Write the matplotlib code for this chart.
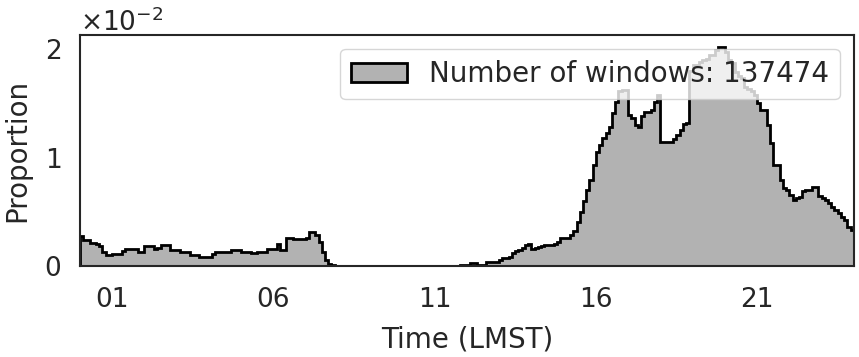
import numpy as np
import matplotlib
matplotlib.use("Agg")
import matplotlib.pyplot as plt
from matplotlib.ticker import ScalarFormatter
import seaborn as sns

# proportion per 6-minute bin, in units of 1e-2
night = [
    0.28, 0.24, 0.24, 0.215, 0.215, 0.20, 0.18, 0.13, 0.10, 0.10,
    0.11, 0.11, 0.11, 0.14, 0.155, 0.155, 0.155, 0.155, 0.13, 0.13,
    0.18, 0.18, 0.18, 0.16, 0.17, 0.19, 0.19, 0.19, 0.15, 0.15,
    0.15, 0.125, 0.125, 0.125, 0.10, 0.10, 0.10, 0.085, 0.085, 0.085,
    0.085, 0.11, 0.125, 0.125, 0.125, 0.125, 0.125, 0.15, 0.15, 0.15,
    0.13, 0.13, 0.13, 0.115, 0.115, 0.13, 0.13, 0.13, 0.16, 0.16,
    0.16, 0.20, 0.15, 0.15, 0.26, 0.26, 0.245, 0.245, 0.245, 0.245,
    0.26, 0.31, 0.31, 0.285, 0.22, 0.13, 0.055, 0.02, 0.005, 0.003,
]
quiet = [
    0.002, 0.0, 0.0, 0.0, 0.0, 0.0, 0.0, 0.0, 0.0, 0.0,
    0.0, 0.0, 0.0, 0.0, 0.0, 0.0, 0.0, 0.0, 0.0, 0.0,
    0.0, 0.0, 0.0, 0.0, 0.0, 0.0, 0.0, 0.0, 0.0, 0.0,
    0.0, 0.0, 0.0, 0.0, 0.0, 0.0, 0.0, 0.0, 0.005, 0.01,
]
afternoon = [
    0.01, 0.025, 0.025, 0.01, 0.01, 0.01, 0.035, 0.04, 0.04, 0.035,
    0.055, 0.07, 0.077, 0.08, 0.12, 0.14, 0.15, 0.17, 0.19, 0.20,
    0.157, 0.165, 0.178, 0.185, 0.19, 0.19, 0.195, 0.20, 0.225, 0.26,
    0.26, 0.255, 0.285, 0.32, 0.41, 0.50, 0.60, 0.70, 0.79, 0.93,
    1.05, 1.115, 1.18, 1.23, 1.285, 1.41, 1.51, 1.61, 1.62, 1.62,
    1.39, 1.36, 1.30, 1.285, 1.38, 1.42, 1.42, 1.44, 1.51, 1.58,
]
evening = [
    1.145, 1.145, 1.145, 1.145, 1.17, 1.21, 1.25, 1.31, 1.32, 1.80,
    1.85, 1.85, 1.88, 1.90, 1.91, 1.945, 1.95, 1.99, 2.02, 2.02,
    1.975, 1.90, 1.87, 1.79, 1.75, 1.73, 1.65, 1.63, 1.61, 1.58,
    1.50, 1.44, 1.44, 1.30, 1.13, 0.93, 0.93, 0.79, 0.72, 0.70,
    0.655, 0.61, 0.63, 0.64, 0.695, 0.70, 0.70, 0.73, 0.73, 0.645,
    0.63, 0.61, 0.58, 0.54, 0.52, 0.485, 0.45, 0.425, 0.36, 0.33,
]
hour_ticks = [1, 6, 11, 16, 21]
hour_labels = ["01", "06", "11", "16", "21"]
n_windows = 137474

props = np.array(night + quiet + afternoon + evening) * 1e-2
edges = np.linspace(0, 24, len(props) + 1)

sns.set_style("white")
plt.rcParams["font.family"] = ["DejaVu Sans"]
plt.rcParams["font.size"] = 20

fig = plt.figure(figsize=(8.59, 3.57), dpi=100)
ax = fig.add_axes([0.093, 0.255, 0.901, 0.647])

ax.stairs(props, edges, fill=True, facecolor="#b2b2b2", edgecolor="black",
          linewidth=2, label=f"Number of windows: {n_windows}")

ax.set_xlim(0, 24)
ax.set_ylim(0, 0.0213)
ax.set_xticks(hour_ticks)
ax.set_xticklabels(hour_labels)
ax.set_yticks([0, 0.01, 0.02])
fmt = ScalarFormatter(useMathText=True)
fmt.set_powerlimits((0, 0))
ax.yaxis.set_major_formatter(fmt)
ax.tick_params(labelsize=19, colors=".15")
ax.tick_params(axis="x", pad=12)
ax.tick_params(axis="y", pad=10)
ax.yaxis.get_offset_text().set_fontsize(19)

ax.set_xlabel("Time (LMST)", fontsize=20, labelpad=9)
ax.set_ylabel("Proportion", fontsize=20, labelpad=9)
for s in ax.spines.values():
    s.set_linewidth(1.5)
    s.set_color(".15")

ax.legend(loc="upper right", fontsize=20, framealpha=0.8)

fig.savefig("out.png", dpi=100)
